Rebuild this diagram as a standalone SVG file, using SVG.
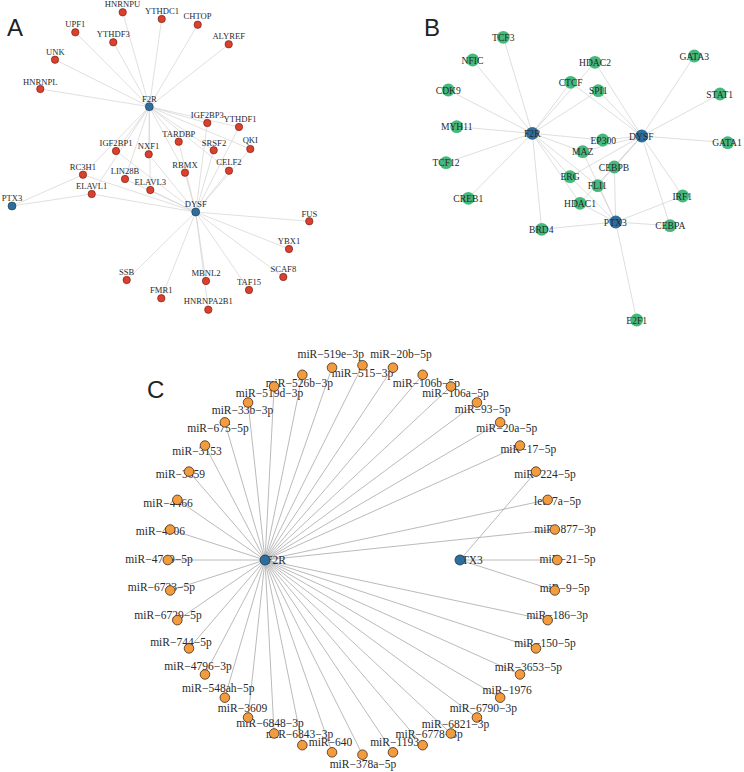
<svg xmlns="http://www.w3.org/2000/svg" width="744" height="772" viewBox="0 0 744 772">
<style>
.ea{stroke:#d2d2d2;stroke-width:0.7;fill:none}
.eb{stroke:#d0d0d0;stroke-width:0.7;fill:none}
.ec{stroke:#a8a8a8;stroke-width:0.8;fill:none}
.nr{fill:#d9402e;stroke:#6b1a10;stroke-width:0.6}
.nba{fill:#2f6e9c;stroke:#1a3550;stroke-width:0.6}
.nbb{fill:#2f6e9c}
.ng{fill:#45b97c}
.no{fill:#f39b3f;stroke:#3d2b1a;stroke-width:0.8}
.nbc{fill:#2f6e9c;stroke:#1a3550;stroke-width:0.8}
text{font-family:"Liberation Serif","Times New Roman",serif;fill:#2a2a2a;text-anchor:middle}
.ta{font-size:8.6px}
.tb{font-size:9.6px}
.tc{font-size:11.5px}
.pl{font-family:"Liberation Sans",Arial,sans-serif;font-size:24px;fill:#222;text-anchor:start}
</style>
<rect width="744" height="772" fill="#ffffff"/>
<text class="pl" x="7" y="36">A</text>
<text class="pl" x="424" y="36">B</text>
<text class="pl" x="147" y="398">C</text>

<g id="edges-A">
<line class="ea" x1="149.3" y1="106.7" x2="122.7" y2="12.3"/>
<line class="ea" x1="149.3" y1="106.7" x2="161.7" y2="19"/>
<line class="ea" x1="149.3" y1="106.7" x2="197.7" y2="24.7"/>
<line class="ea" x1="149.3" y1="106.7" x2="228.7" y2="44.3"/>
<line class="ea" x1="149.3" y1="106.7" x2="75.3" y2="32.3"/>
<line class="ea" x1="149.3" y1="106.7" x2="113.3" y2="42.3"/>
<line class="ea" x1="149.3" y1="106.7" x2="55" y2="59.7"/>
<line class="ea" x1="149.3" y1="106.7" x2="40.3" y2="89"/>
<line class="ea" x1="149.3" y1="106.7" x2="207.3" y2="123"/>
<line class="ea" x1="149.3" y1="106.7" x2="239" y2="127"/>
<line class="ea" x1="149.3" y1="106.7" x2="178.7" y2="141.7"/>
<line class="ea" x1="149.3" y1="106.7" x2="213.7" y2="150.3"/>
<line class="ea" x1="149.3" y1="106.7" x2="250.3" y2="149"/>
<line class="ea" x1="149.3" y1="106.7" x2="116" y2="151"/>
<line class="ea" x1="149.3" y1="106.7" x2="148.7" y2="154.3"/>
<line class="ea" x1="149.3" y1="106.7" x2="185" y2="172.7"/>
<line class="ea" x1="149.3" y1="106.7" x2="229" y2="170.7"/>
<line class="ea" x1="149.3" y1="106.7" x2="125" y2="179"/>
<line class="ea" x1="149.3" y1="106.7" x2="150.3" y2="190"/>
<line class="ea" x1="149.3" y1="106.7" x2="83" y2="174.7"/>
<line class="ea" x1="149.3" y1="106.7" x2="91.7" y2="194"/>
<line class="ea" x1="195.7" y1="212" x2="207.3" y2="123"/>
<line class="ea" x1="195.7" y1="212" x2="239" y2="127"/>
<line class="ea" x1="195.7" y1="212" x2="178.7" y2="141.7"/>
<line class="ea" x1="195.7" y1="212" x2="213.7" y2="150.3"/>
<line class="ea" x1="195.7" y1="212" x2="250.3" y2="149"/>
<line class="ea" x1="195.7" y1="212" x2="116" y2="151"/>
<line class="ea" x1="195.7" y1="212" x2="148.7" y2="154.3"/>
<line class="ea" x1="195.7" y1="212" x2="185" y2="172.7"/>
<line class="ea" x1="195.7" y1="212" x2="229" y2="170.7"/>
<line class="ea" x1="195.7" y1="212" x2="125" y2="179"/>
<line class="ea" x1="195.7" y1="212" x2="150.3" y2="190"/>
<line class="ea" x1="195.7" y1="212" x2="83" y2="174.7"/>
<line class="ea" x1="195.7" y1="212" x2="91.7" y2="194"/>
<line class="ea" x1="195.7" y1="212" x2="309.3" y2="221.3"/>
<line class="ea" x1="195.7" y1="212" x2="289" y2="249"/>
<line class="ea" x1="195.7" y1="212" x2="283.3" y2="277"/>
<line class="ea" x1="195.7" y1="212" x2="206" y2="281"/>
<line class="ea" x1="195.7" y1="212" x2="249" y2="290"/>
<line class="ea" x1="195.7" y1="212" x2="208.3" y2="309.7"/>
<line class="ea" x1="195.7" y1="212" x2="126.7" y2="280"/>
<line class="ea" x1="195.7" y1="212" x2="161.3" y2="298.3"/>
<line class="ea" x1="12" y1="206" x2="83" y2="174.7"/>
<line class="ea" x1="12" y1="206" x2="91.7" y2="194"/>
</g>

<g id="a-HNRNPU"><circle class="nr" cx="122.7" cy="12.3" r="3.7"/><text class="ta" x="122.5" y="7">HNRNPU</text></g>
<g id="a-YTHDC1"><circle class="nr" cx="161.7" cy="19" r="3.7"/><text class="ta" x="162" y="13.5">YTHDC1</text></g>
<g id="a-CHTOP"><circle class="nr" cx="197.7" cy="24.7" r="3.7"/><text class="ta" x="197.5" y="19.3">CHTOP</text></g>
<g id="a-ALYREF"><circle class="nr" cx="228.7" cy="44.3" r="3.7"/><text class="ta" x="228.7" y="39">ALYREF</text></g>
<g id="a-UPF1"><circle class="nr" cx="75.3" cy="32.3" r="3.7"/><text class="ta" x="75.3" y="27">UPF1</text></g>
<g id="a-YTHDF3"><circle class="nr" cx="113.3" cy="42.3" r="3.7"/><text class="ta" x="113.3" y="37">YTHDF3</text></g>
<g id="a-UNK"><circle class="nr" cx="55" cy="59.7" r="3.7"/><text class="ta" x="55.3" y="55">UNK</text></g>
<g id="a-HNRNPL"><circle class="nr" cx="40.3" cy="89" r="3.7"/><text class="ta" x="40.3" y="84.5">HNRNPL</text></g>
<g id="a-IGF2BP3"><circle class="nr" cx="207.3" cy="123" r="3.7"/><text class="ta" x="207.3" y="117.5">IGF2BP3</text></g>
<g id="a-YTHDF1"><circle class="nr" cx="239" cy="127" r="3.7"/><text class="ta" x="240" y="121.7">YTHDF1</text></g>
<g id="a-TARDBP"><circle class="nr" cx="178.7" cy="141.7" r="3.7"/><text class="ta" x="178.8" y="137">TARDBP</text></g>
<g id="a-SRSF2"><circle class="nr" cx="213.7" cy="150.3" r="3.7"/><text class="ta" x="214" y="145.5">SRSF2</text></g>
<g id="a-QKI"><circle class="nr" cx="250.3" cy="149" r="3.7"/><text class="ta" x="250.3" y="143">QKI</text></g>
<g id="a-IGF2BP1"><circle class="nr" cx="116" cy="151" r="3.7"/><text class="ta" x="116" y="145.7">IGF2BP1</text></g>
<g id="a-NXF1"><circle class="nr" cx="148.7" cy="154.3" r="3.7"/><text class="ta" x="148.5" y="149">NXF1</text></g>
<g id="a-RBMX"><circle class="nr" cx="185" cy="172.7" r="3.7"/><text class="ta" x="185" y="168">RBMX</text></g>
<g id="a-CELF2"><circle class="nr" cx="229" cy="170.7" r="3.7"/><text class="ta" x="229" y="165">CELF2</text></g>
<g id="a-RC3H1"><circle class="nr" cx="83" cy="174.7" r="3.7"/><text class="ta" x="83" y="170">RC3H1</text></g>
<g id="a-LIN28B"><circle class="nr" cx="125" cy="179" r="3.7"/><text class="ta" x="125" y="173.5">LIN28B</text></g>
<g id="a-ELAVL3"><circle class="nr" cx="150.3" cy="190" r="3.7"/><text class="ta" x="150.3" y="184.5">ELAVL3</text></g>
<g id="a-ELAVL1"><circle class="nr" cx="91.7" cy="194" r="3.7"/><text class="ta" x="91.7" y="189">ELAVL1</text></g>
<g id="a-FUS"><circle class="nr" cx="309.3" cy="221.3" r="3.7"/><text class="ta" x="309.3" y="216.5">FUS</text></g>
<g id="a-YBX1"><circle class="nr" cx="289" cy="249" r="3.7"/><text class="ta" x="289" y="244">YBX1</text></g>
<g id="a-SCAF8"><circle class="nr" cx="283.3" cy="277" r="3.7"/><text class="ta" x="283.3" y="272">SCAF8</text></g>
<g id="a-MBNL2"><circle class="nr" cx="206" cy="281" r="3.7"/><text class="ta" x="206" y="276">MBNL2</text></g>
<g id="a-TAF15"><circle class="nr" cx="249" cy="290" r="3.7"/><text class="ta" x="249" y="285">TAF15</text></g>
<g id="a-HNRNPA2B1"><circle class="nr" cx="208.3" cy="309.7" r="3.7"/><text class="ta" x="208.3" y="304">HNRNPA2B1</text></g>
<g id="a-SSB"><circle class="nr" cx="126.7" cy="280" r="3.7"/><text class="ta" x="126.7" y="275">SSB</text></g>
<g id="a-FMR1"><circle class="nr" cx="161.3" cy="298.3" r="3.7"/><text class="ta" x="161.3" y="293">FMR1</text></g>
<g id="a-F2R"><circle class="nba" cx="149.3" cy="106.7" r="4"/><text class="ta" x="149.3" y="101.5">F2R</text></g>
<g id="a-DYSF"><circle class="nba" cx="195.7" cy="212" r="4"/><text class="ta" x="195.7" y="207">DYSF</text></g>
<g id="a-PTX3"><circle class="nba" cx="12" cy="206" r="4"/><text class="ta" x="12" y="200.5">PTX3</text></g>

<g id="edges-B">
<line class="eb" x1="532.3" y1="133.3" x2="503.3" y2="37.3"/>
<line class="eb" x1="532.3" y1="133.3" x2="472.7" y2="60"/>
<line class="eb" x1="532.3" y1="133.3" x2="448.3" y2="90"/>
<line class="eb" x1="532.3" y1="133.3" x2="456.7" y2="126.7"/>
<line class="eb" x1="532.3" y1="133.3" x2="446" y2="162.7"/>
<line class="eb" x1="532.3" y1="133.3" x2="468.3" y2="198.3"/>
<line class="eb" x1="532.3" y1="133.3" x2="541.7" y2="229.3"/>
<line class="eb" x1="532.3" y1="133.3" x2="570.7" y2="82.3"/>
<line class="eb" x1="532.3" y1="133.3" x2="595" y2="62.3"/>
<line class="eb" x1="532.3" y1="133.3" x2="598.3" y2="90.7"/>
<line class="eb" x1="532.3" y1="133.3" x2="602.7" y2="140"/>
<line class="eb" x1="532.3" y1="133.3" x2="582.7" y2="151.7"/>
<line class="eb" x1="532.3" y1="133.3" x2="570" y2="176.7"/>
<line class="eb" x1="532.3" y1="133.3" x2="597.7" y2="185.7"/>
<line class="eb" x1="532.3" y1="133.3" x2="580" y2="203.3"/>
<line class="eb" x1="641.7" y1="136" x2="595" y2="62.3"/>
<line class="eb" x1="641.7" y1="136" x2="570.7" y2="82.3"/>
<line class="eb" x1="641.7" y1="136" x2="598.3" y2="90.7"/>
<line class="eb" x1="641.7" y1="136" x2="694.3" y2="56"/>
<line class="eb" x1="641.7" y1="136" x2="720" y2="94"/>
<line class="eb" x1="641.7" y1="136" x2="727.7" y2="142.7"/>
<line class="eb" x1="641.7" y1="136" x2="602.7" y2="140"/>
<line class="eb" x1="641.7" y1="136" x2="582.7" y2="151.7"/>
<line class="eb" x1="641.7" y1="136" x2="614.3" y2="167"/>
<line class="eb" x1="641.7" y1="136" x2="682.7" y2="196"/>
<line class="eb" x1="641.7" y1="136" x2="670" y2="225.7"/>
<line class="eb" x1="641.7" y1="136" x2="570" y2="176.7"/>
<line class="eb" x1="641.7" y1="136" x2="597.7" y2="185.7"/>
<line class="eb" x1="641.7" y1="136" x2="580" y2="203.3"/>
<line class="eb" x1="615.7" y1="222" x2="541.7" y2="229.3"/>
<line class="eb" x1="615.7" y1="222" x2="636.7" y2="320"/>
<line class="eb" x1="615.7" y1="222" x2="670" y2="225.7"/>
<line class="eb" x1="615.7" y1="222" x2="682.7" y2="196"/>
<line class="eb" x1="615.7" y1="222" x2="580" y2="203.3"/>
<line class="eb" x1="615.7" y1="222" x2="570" y2="176.7"/>
<line class="eb" x1="615.7" y1="222" x2="597.7" y2="185.7"/>
<line class="eb" x1="615.7" y1="222" x2="614.3" y2="167"/>
<line class="eb" x1="615.7" y1="222" x2="582.7" y2="151.7"/>
</g>

<g id="b-TCF3"><circle class="ng" cx="503.3" cy="37.3" r="6.4"/><text class="tb" x="503.3" y="40.8">TCF3</text></g>
<g id="b-NFIC"><circle class="ng" cx="472.7" cy="60" r="6.4"/><text class="tb" x="472.5" y="63.5">NFIC</text></g>
<g id="b-CDK9"><circle class="ng" cx="448.3" cy="90" r="6.4"/><text class="tb" x="448.3" y="93.5">CDK9</text></g>
<g id="b-MYH11"><circle class="ng" cx="456.7" cy="126.7" r="6.4"/><text class="tb" x="456.7" y="130.2">MYH11</text></g>
<g id="b-TCF12"><circle class="ng" cx="446" cy="162.7" r="6.4"/><text class="tb" x="446" y="166.2">TCF12</text></g>
<g id="b-CREB1"><circle class="ng" cx="468.3" cy="198.3" r="6.4"/><text class="tb" x="468.3" y="201.8">CREB1</text></g>
<g id="b-HDAC2"><circle class="ng" cx="595" cy="62.3" r="6.4"/><text class="tb" x="595" y="65.8">HDAC2</text></g>
<g id="b-CTCF"><circle class="ng" cx="570.7" cy="82.3" r="6.4"/><text class="tb" x="570.7" y="85.8">CTCF</text></g>
<g id="b-SPI1"><circle class="ng" cx="598.3" cy="90.7" r="6.4"/><text class="tb" x="598.3" y="94.2">SPI1</text></g>
<g id="b-GATA3"><circle class="ng" cx="694.3" cy="56" r="6.4"/><text class="tb" x="694.3" y="59.5">GATA3</text></g>
<g id="b-STAT1"><circle class="ng" cx="720" cy="94" r="6.4"/><text class="tb" x="719.7" y="97.5">STAT1</text></g>
<g id="b-GATA1"><circle class="ng" cx="727.7" cy="142.7" r="6.4"/><text class="tb" x="727" y="146.2">GATA1</text></g>
<g id="b-EP300"><circle class="ng" cx="602.7" cy="140" r="6.4"/><text class="tb" x="603.3" y="143.5">EP300</text></g>
<g id="b-MAZ"><circle class="ng" cx="582.7" cy="151.7" r="6.4"/><text class="tb" x="582.7" y="155.2">MAZ</text></g>
<g id="b-CEBPB"><circle class="ng" cx="614.3" cy="167" r="6.4"/><text class="tb" x="614" y="170.5">CEBPB</text></g>
<g id="b-ERG"><circle class="ng" cx="570" cy="176.7" r="6.4"/><text class="tb" x="570" y="180.2">ERG</text></g>
<g id="b-FLI1"><circle class="ng" cx="597.7" cy="185.7" r="6.4"/><text class="tb" x="597.3" y="189.2">FLI1</text></g>
<g id="b-HDAC1"><circle class="ng" cx="580" cy="203.3" r="6.4"/><text class="tb" x="580" y="206.8">HDAC1</text></g>
<g id="b-IRF1"><circle class="ng" cx="682.7" cy="196" r="6.4"/><text class="tb" x="682.3" y="199.5">IRF1</text></g>
<g id="b-CEBPA"><circle class="ng" cx="670" cy="225.7" r="6.4"/><text class="tb" x="670.3" y="229.2">CEBPA</text></g>
<g id="b-BRD4"><circle class="ng" cx="541.7" cy="229.3" r="6.4"/><text class="tb" x="541.3" y="232.8">BRD4</text></g>
<g id="b-E2F1"><circle class="ng" cx="636.7" cy="320" r="6.4"/><text class="tb" x="636.7" y="323.5">E2F1</text></g>
<g id="b-F2R"><circle class="nbb" cx="532.3" cy="133.3" r="6.4"/><text class="tb" x="532.3" y="136.8">F2R</text></g>
<g id="b-DYSF"><circle class="nbb" cx="641.7" cy="136" r="6.4"/><text class="tb" x="641.3" y="139.5">DYSF</text></g>
<g id="b-PTX3"><circle class="nbb" cx="615.7" cy="222" r="6.4"/><text class="tb" x="615.3" y="225.5">PTX3</text></g>

<g id="edges-C">
<line class="ec" x1="265" y1="560" x2="362.5" y2="365.3"/>
<line class="ec" x1="265" y1="560" x2="392.96" y2="367.7"/>
<line class="ec" x1="265" y1="560" x2="422.66" y2="374.83"/>
<line class="ec" x1="265" y1="560" x2="450.89" y2="386.52"/>
<line class="ec" x1="265" y1="560" x2="476.94" y2="402.49"/>
<line class="ec" x1="265" y1="560" x2="500.17" y2="422.33"/>
<line class="ec" x1="265" y1="560" x2="520.01" y2="445.56"/>
<line class="ec" x1="265" y1="560" x2="547.67" y2="499.84"/>
<line class="ec" x1="265" y1="560" x2="554.8" y2="529.54"/>
<line class="ec" x1="265" y1="560" x2="547.67" y2="620.16"/>
<line class="ec" x1="265" y1="560" x2="535.98" y2="648.39"/>
<line class="ec" x1="265" y1="560" x2="520.01" y2="674.44"/>
<line class="ec" x1="265" y1="560" x2="500.17" y2="697.67"/>
<line class="ec" x1="265" y1="560" x2="476.94" y2="717.51"/>
<line class="ec" x1="265" y1="560" x2="450.89" y2="733.48"/>
<line class="ec" x1="265" y1="560" x2="422.66" y2="745.17"/>
<line class="ec" x1="265" y1="560" x2="392.96" y2="752.3"/>
<line class="ec" x1="265" y1="560" x2="362.5" y2="754.7"/>
<line class="ec" x1="265" y1="560" x2="332.04" y2="752.3"/>
<line class="ec" x1="265" y1="560" x2="302.34" y2="745.17"/>
<line class="ec" x1="265" y1="560" x2="274.11" y2="733.48"/>
<line class="ec" x1="265" y1="560" x2="248.06" y2="717.51"/>
<line class="ec" x1="265" y1="560" x2="224.83" y2="697.67"/>
<line class="ec" x1="265" y1="560" x2="204.99" y2="674.44"/>
<line class="ec" x1="265" y1="560" x2="189.02" y2="648.39"/>
<line class="ec" x1="265" y1="560" x2="177.33" y2="620.16"/>
<line class="ec" x1="265" y1="560" x2="170.2" y2="590.46"/>
<line class="ec" x1="265" y1="560" x2="167.8" y2="560"/>
<line class="ec" x1="265" y1="560" x2="170.2" y2="529.54"/>
<line class="ec" x1="265" y1="560" x2="177.33" y2="499.84"/>
<line class="ec" x1="265" y1="560" x2="189.02" y2="471.61"/>
<line class="ec" x1="265" y1="560" x2="204.99" y2="445.56"/>
<line class="ec" x1="265" y1="560" x2="224.83" y2="422.33"/>
<line class="ec" x1="265" y1="560" x2="248.06" y2="402.49"/>
<line class="ec" x1="265" y1="560" x2="274.11" y2="386.52"/>
<line class="ec" x1="265" y1="560" x2="302.34" y2="374.83"/>
<line class="ec" x1="265" y1="560" x2="332.04" y2="367.7"/>
<line class="ec" x1="460" y1="560" x2="535.98" y2="471.61"/>
<line class="ec" x1="460" y1="560" x2="557.2" y2="560"/>
<line class="ec" x1="460" y1="560" x2="554.8" y2="590.46"/>
</g>

<g id="c-F2R"><text class="tc" x="276" y="563.5">F2R</text><circle class="nbc" cx="265" cy="560" r="5"/></g>
<g id="c-PTX3"><text class="tc" x="469" y="563.5">PTX3</text><circle class="nbc" cx="460" cy="560" r="5"/></g>
<g id="c-miR-515-3p"><text class="tc" x="362.5" y="377.3">miR−515−3p</text><circle class="no" cx="362.5" cy="365.3" r="4.8"/></g>
<g id="c-miR-20b-5p"><text class="tc" x="401" y="358.3">miR−20b−5p</text><circle class="no" cx="392.96" cy="367.7" r="4.8"/></g>
<g id="c-miR-106b-5p"><text class="tc" x="426.4" y="386.7">miR−106b−5p</text><circle class="no" cx="422.66" cy="374.83" r="4.8"/></g>
<g id="c-miR-106a-5p"><text class="tc" x="455.5" y="396.7">miR−106a−5p</text><circle class="no" cx="450.89" cy="386.52" r="4.8"/></g>
<g id="c-miR-93-5p"><text class="tc" x="482.7" y="413.3">miR−93−5p</text><circle class="no" cx="476.94" cy="402.49" r="4.8"/></g>
<g id="c-miR-20a-5p"><text class="tc" x="506.8" y="431.7">miR−20a−5p</text><circle class="no" cx="500.17" cy="422.33" r="4.8"/></g>
<g id="c-miR-17-5p"><text class="tc" x="528.3" y="453.3">miR−17−5p</text><circle class="no" cx="520.01" cy="445.56" r="4.8"/></g>
<g id="c-miR-224-5p"><text class="tc" x="545" y="478.3">miR−224−5p</text><circle class="no" cx="535.98" cy="471.61" r="4.8"/></g>
<g id="c-let-7a-5p"><text class="tc" x="557.5" y="505">let−7a−5p</text><circle class="no" cx="547.67" cy="499.84" r="4.8"/></g>
<g id="c-miR-877-3p"><text class="tc" x="565" y="533.3">miR−877−3p</text><circle class="no" cx="554.8" cy="529.54" r="4.8"/></g>
<g id="c-miR-21-5p"><text class="tc" x="567.5" y="563.3">miR−21−5p</text><circle class="no" cx="557.2" cy="560" r="4.8"/></g>
<g id="c-miR-9-5p"><text class="tc" x="564.7" y="591.7">miR−9−5p</text><circle class="no" cx="554.8" cy="590.46" r="4.8"/></g>
<g id="c-miR-186-3p"><text class="tc" x="557.2" y="619.3">miR−186−3p</text><circle class="no" cx="547.67" cy="620.16" r="4.8"/></g>
<g id="c-miR-150-5p"><text class="tc" x="545" y="646.7">miR−150−5p</text><circle class="no" cx="535.98" cy="648.39" r="4.8"/></g>
<g id="c-miR-3653-5p"><text class="tc" x="528.3" y="671">miR−3653−5p</text><circle class="no" cx="520.01" cy="674.44" r="4.8"/></g>
<g id="c-miR-1976"><text class="tc" x="507.2" y="693.7">miR−1976</text><circle class="no" cx="500.17" cy="697.67" r="4.8"/></g>
<g id="c-miR-6790-3p"><text class="tc" x="483.3" y="712">miR−6790−3p</text><circle class="no" cx="476.94" cy="717.51" r="4.8"/></g>
<g id="c-miR-1193"><text class="tc" x="394.6" y="746">miR−1193</text><circle class="no" cx="392.96" cy="752.3" r="4.8"/></g>
<g id="c-miR-6778-3p"><text class="tc" x="429.2" y="738.3">miR−6778−3p</text><circle class="no" cx="422.66" cy="745.17" r="4.8"/></g>
<g id="c-miR-6821-3p"><text class="tc" x="455.5" y="727.7">miR−6821−3p</text><circle class="no" cx="450.89" cy="733.48" r="4.8"/></g>
<g id="c-miR-378a-5p"><text class="tc" x="363" y="767.7">miR−378a−5p</text><circle class="no" cx="362.5" cy="754.7" r="4.8"/></g>
<g id="c-miR-640"><text class="tc" x="330.5" y="746">miR−640</text><circle class="no" cx="332.04" cy="752.3" r="4.8"/></g>
<g id="c-miR-6843-3p"><text class="tc" x="299.7" y="738.3">miR−6843−3p</text><circle class="no" cx="302.34" cy="745.17" r="4.8"/></g>
<g id="c-miR-6848-3p"><text class="tc" x="270" y="726.7">miR−6848−3p</text><circle class="no" cx="274.11" cy="733.48" r="4.8"/></g>
<g id="c-miR-3609"><text class="tc" x="242.5" y="711.7">miR−3609</text><circle class="no" cx="248.06" cy="717.51" r="4.8"/></g>
<g id="c-miR-548ah-5p"><text class="tc" x="218.3" y="692.3">miR−548ah−5p</text><circle class="no" cx="224.83" cy="697.67" r="4.8"/></g>
<g id="c-miR-4796-3p"><text class="tc" x="198" y="670">miR−4796−3p</text><circle class="no" cx="204.99" cy="674.44" r="4.8"/></g>
<g id="c-miR-744-5p"><text class="tc" x="180.9" y="646">miR−744−5p</text><circle class="no" cx="189.02" cy="648.39" r="4.8"/></g>
<g id="c-miR-6729-5p"><text class="tc" x="168" y="619.3">miR−6729−5p</text><circle class="no" cx="177.33" cy="620.16" r="4.8"/></g>
<g id="c-miR-6733-5p"><text class="tc" x="161.4" y="591">miR−6733−5p</text><circle class="no" cx="170.2" cy="590.46" r="4.8"/></g>
<g id="c-miR-4749-5p"><text class="tc" x="159" y="563.3">miR−4749−5p</text><circle class="no" cx="167.8" cy="560" r="4.8"/></g>
<g id="c-miR-4706"><text class="tc" x="160.4" y="535">miR−4706</text><circle class="no" cx="170.2" cy="529.54" r="4.8"/></g>
<g id="c-miR-4466"><text class="tc" x="168" y="506.7">miR−4466</text><circle class="no" cx="177.33" cy="499.84" r="4.8"/></g>
<g id="c-miR-3659"><text class="tc" x="180.4" y="478.3">miR−3659</text><circle class="no" cx="189.02" cy="471.61" r="4.8"/></g>
<g id="c-miR-3153"><text class="tc" x="197" y="455">miR−3153</text><circle class="no" cx="204.99" cy="445.56" r="4.8"/></g>
<g id="c-miR-675-5p"><text class="tc" x="218" y="431.7">miR−675−5p</text><circle class="no" cx="224.83" cy="422.33" r="4.8"/></g>
<g id="c-miR-519e-3p"><text class="tc" x="330.8" y="358.3">miR−519e−3p</text><circle class="no" cx="332.04" cy="367.7" r="4.8"/></g>
<g id="c-miR-526b-3p"><text class="tc" x="299.3" y="386.7">miR−526b−3p</text><circle class="no" cx="302.34" cy="374.83" r="4.8"/></g>
<g id="c-miR-519d-3p"><text class="tc" x="269.5" y="396.7">miR−519d−3p</text><circle class="no" cx="274.11" cy="386.52" r="4.8"/></g>
<g id="c-miR-33b-3p"><text class="tc" x="242.5" y="414">miR−33b−3p</text><circle class="no" cx="248.06" cy="402.49" r="4.8"/></g>
</svg>
